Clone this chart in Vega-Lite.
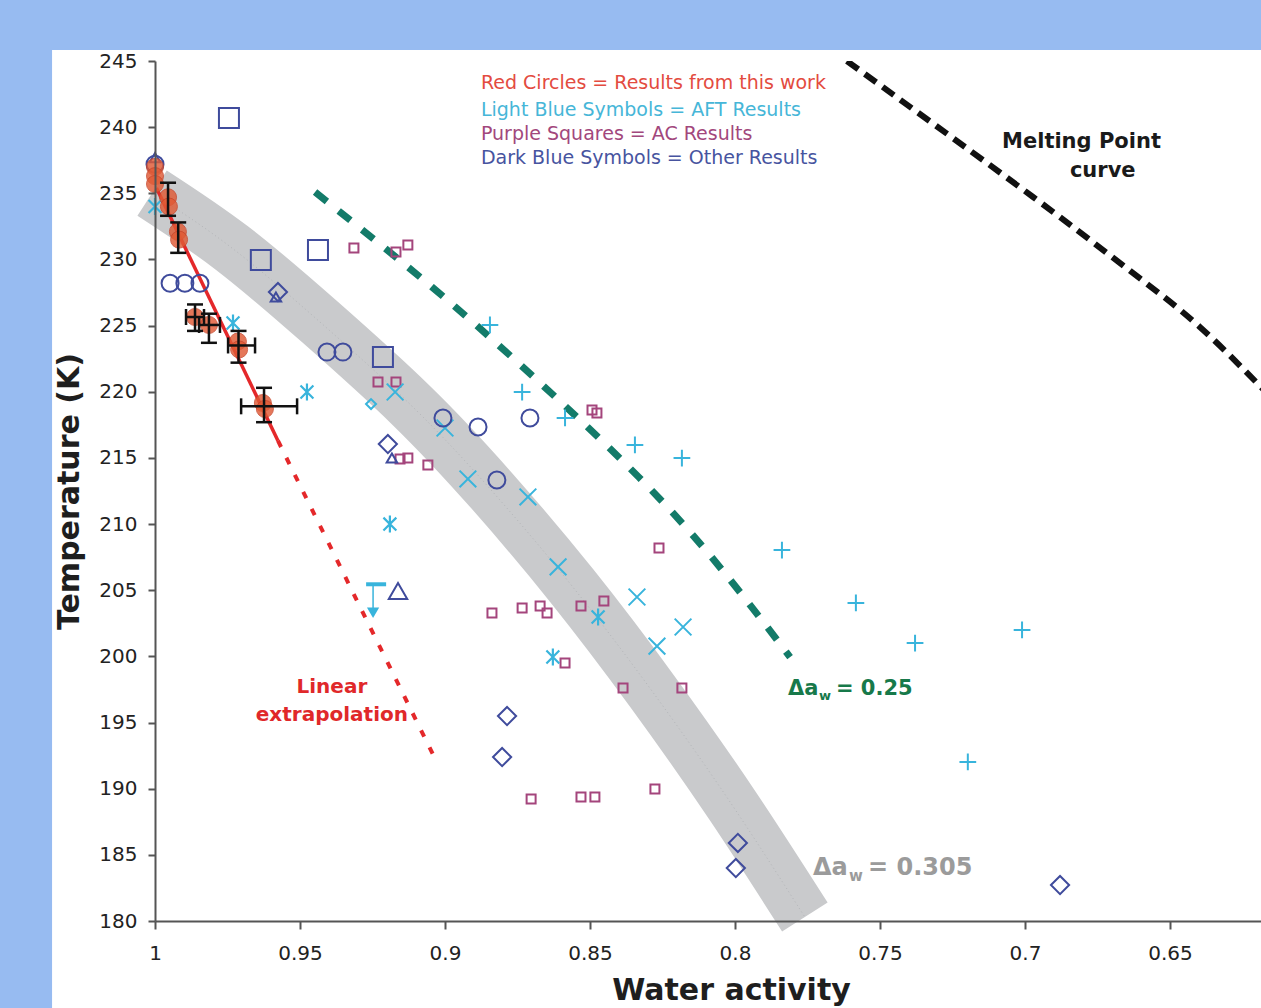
{
"$schema": "https://vega.github.io/schema/vega-lite/v6.json",
"width": 1106, "height": 860,
"autosize": {"type": "none"},
"padding": {"left": 155, "top": 61, "right": 0, "bottom": 87},
"background": "#97bbf1",
"config": {"view": {"stroke": null}, "axis": {"grid": false}},
"datasets": {
 "panel": [{"x1": 1.0355, "x2": 0.60, "y1": 245.83, "y2": 172.5}],
 "band": [{"aw":1.001,"T":235.02},{"aw":0.9735,"T":230.87},{"aw":0.9431,"T":225.27},{"aw":0.9114,"T":218.92},{"aw":0.8838,"T":212.5},{"aw":0.8562,"T":205.32},{"aw":0.8286,"T":197.38},{"aw":0.801,"T":188.77},{"aw":0.7759,"T":180.3}],
 "melt": [{"aw":0.7614,"T":245.0},{"aw":0.6972,"T":234.72},{"aw":0.6628,"T":228.98},{"aw":0.6397,"T":224.9},{"aw":0.6186,"T":220.36},{"aw":0.61,"T":218.5}],
 "green": [{"aw":0.9448,"T":235.1},{"aw":0.9045,"T":227.92},{"aw":0.8683,"T":220.89},{"aw":0.8214,"T":210.84},{"aw":0.781,"T":199.95}],
 "redfit": [{"aw":0.9995,"T":235.4},{"aw":0.9576,"T":216.3}],
 "redext": [{"aw":0.9576,"T":216.3},{"aw":0.9028,"T":192.0}],
 "red": [{"aw":1.0,"T":237.0},{"aw":1.0,"T":236.3},{"aw":1.0,"T":235.7},{"aw":0.9955,"T":234.7},{"aw":0.9952,"T":234.0},{"aw":0.9921,"T":232.1},{"aw":0.9917,"T":231.5},{"aw":0.9862,"T":225.65},{"aw":0.9814,"T":225.05},{"aw":0.9714,"T":223.8},{"aw":0.971,"T":223.2},{"aw":0.9628,"T":219.15},{"aw":0.9621,"T":218.7}],
 "errv": [{"aw":0.9955,"Tlo":233.3,"Thi":235.8},{"aw":0.992,"Tlo":230.5,"Thi":232.8},{"aw":0.9862,"Tlo":224.6,"Thi":226.6},{"aw":0.9814,"Tlo":223.7,"Thi":225.9},{"aw":0.9712,"Tlo":222.2,"Thi":224.6},{"aw":0.9624,"Tlo":217.7,"Thi":220.3}],
 "errh": [{"awlo":0.9893,"awhi":0.9831,"T":225.65},{"awlo":0.9848,"awhi":0.9776,"T":225.05},{"awlo":0.9748,"awhi":0.9655,"T":223.5},{"awlo":0.9703,"awhi":0.951,"T":218.9}],
 "purple": [{"aw":0.9314,"T":230.87},{"aw":0.9169,"T":230.57},{"aw":0.9128,"T":231.09},{"aw":0.9231,"T":220.74},{"aw":0.9169,"T":220.74},{"aw":0.9059,"T":214.46},{"aw":0.9155,"T":214.92},{"aw":0.9128,"T":215.0},{"aw":0.8493,"T":218.62},{"aw":0.8476,"T":218.4},{"aw":0.8262,"T":208.19},{"aw":0.8838,"T":203.28},{"aw":0.8734,"T":203.66},{"aw":0.8672,"T":203.81},{"aw":0.8648,"T":203.28},{"aw":0.8531,"T":203.81},{"aw":0.8452,"T":204.18},{"aw":0.8586,"T":199.5},{"aw":0.8386,"T":197.61},{"aw":0.8183,"T":197.61},{"aw":0.8703,"T":189.22},{"aw":0.8531,"T":189.37},{"aw":0.8483,"T":189.37},{"aw":0.8276,"T":189.98}],
 "lbx": [{"aw":0.9172,"T":219.98},{"aw":0.9,"T":217.26},{"aw":0.8921,"T":213.41},{"aw":0.8714,"T":212.05},{"aw":0.861,"T":206.76},{"aw":0.8338,"T":204.49},{"aw":0.8269,"T":200.78},{"aw":0.8179,"T":202.22}],
 "lbplus": [{"aw":0.8845,"T":225.05},{"aw":0.8734,"T":219.98},{"aw":0.8586,"T":218.02},{"aw":0.8345,"T":215.98},{"aw":0.8183,"T":214.99},{"aw":0.7838,"T":208.04},{"aw":0.7583,"T":204.04},{"aw":0.7379,"T":201.01},{"aw":0.701,"T":202.0},{"aw":0.7197,"T":192.02}],
 "lbast": [{"aw":1.0,"T":234.0},{"aw":0.9731,"T":225.2},{"aw":0.9476,"T":219.98},{"aw":0.919,"T":210.0},{"aw":0.8628,"T":199.95},{"aw":0.8472,"T":202.98}],
 "lbdiam": [{"aw":0.9255,"T":219.07}],
 "limit": [{"aw":0.9248,"awlo":0.9272,"awhi":0.9203,"T":205.45,"Tlo":203.3}],
 "dbsq": [{"aw":0.9745,"T":240.69},{"aw":0.9635,"T":229.96},{"aw":0.9438,"T":230.72},{"aw":0.9214,"T":222.63}],
 "dbcirc": [{"aw":1.0,"T":237.2},{"aw":0.9948,"T":228.2},{"aw":0.9897,"T":228.2},{"aw":0.9845,"T":228.2},{"aw":0.9407,"T":223.0},{"aw":0.9352,"T":223.0},{"aw":0.9007,"T":218.02},{"aw":0.8886,"T":217.34},{"aw":0.8707,"T":218.02},{"aw":0.8821,"T":213.33}],
 "dbdiam": [{"aw":0.9576,"T":227.54},{"aw":0.9197,"T":216.05},{"aw":0.8786,"T":195.49},{"aw":0.8803,"T":192.39},{"aw":0.799,"T":185.9},{"aw":0.7997,"T":184.0},{"aw":0.6879,"T":182.72}],
 "dbtri": [{"aw":1.0,"T":237.7},{"aw":0.9583,"T":227.16},{"aw":0.9183,"T":215.0}],
 "dbtribig": [{"aw":0.9162,"T":204.94}],
 "legend": [{"aw":0.8876,"T":242.88,"label":"Red Circles = Results from this work","series":"a"},{"aw":0.8876,"T":240.84,"label":"Light Blue Symbols = AFT Results","series":"b"},{"aw":0.8876,"T":239.03,"label":"Purple Squares = AC Results","series":"c"},{"aw":0.8876,"T":237.22,"label":"Dark Blue Symbols = Other Results","series":"d"}],
 "meltlab": [{"aw":0.7079,"T":238.42,"label":"Melting Point"},{"aw":0.6845,"T":236.23,"label":"curve"}],
 "linlab": [{"aw":0.939,"T":197.23,"label":"Linear"},{"aw":0.939,"T":195.12,"label":"extrapolation"}],
 "glab": [{"aw":0.7817,"T":197.08,"label":"Δa"},{"aw":0.7652,"T":197.08,"label":"= 0.25"}],
 "gsub": [{"aw":0.771,"T":196.72,"label":"w"}],
 "klab": [{"aw":0.7731,"T":183.45,"label":"Δa"},{"aw":0.7541,"T":183.45,"label":"= 0.305"}],
 "ksub": [{"aw":0.7607,"T":183.05,"label":"w"}]
},
"encoding": {
 "x": {"field": "aw", "type": "quantitative",
  "scale": {"domain": [0.6186, 1], "reverse": true, "nice": false, "zero": false},
  "axis": {"values": [1, 0.95, 0.9, 0.85, 0.8, 0.75, 0.7, 0.65], "format": "~g", "title": "Water activity",
   "titleX": 576, "titleY": 78, "titleAlign": "center", "titleBaseline": "alphabetic",
   "titleFont": "DejaVu Sans", "titleFontSize": 30, "titleFontWeight": "bold", "titleColor": "#1e1e1e",
   "labelFont": "DejaVu Sans", "labelFontSize": 20, "labelColor": "#222222", "labelPadding": 14,
   "tickSize": 8, "tickColor": "#555555", "tickWidth": 2, "domainColor": "#555555", "domainWidth": 2,
   "grid": false, "zindex": 1, "labelFlush": false, "labelOverlap": false}},
 "y": {"field": "T", "type": "quantitative",
  "scale": {"domain": [180, 245], "nice": false, "zero": false},
  "axis": {"values": [180,185,190,195,200,205,210,215,220,225,230,235,240,245], "format": "d", "title": "Temperature (K)",
   "titleX": -77, "titleY": 430, "titleAngle": 270, "titleAlign": "center", "titleBaseline": "alphabetic",
   "titleFont": "DejaVu Sans", "titleFontSize": 30, "titleFontWeight": "bold", "titleColor": "#1e1e1e",
   "labelFont": "DejaVu Sans", "labelFontSize": 20, "labelColor": "#222222", "labelPadding": 11,
   "tickSize": 7, "tickColor": "#555555", "tickWidth": 2, "domainColor": "#555555", "domainWidth": 2,
   "grid": false, "zindex": 1, "labelFlush": false, "labelOverlap": false}}
},
"layer": [
 {"data": {"name": "panel"}, "mark": {"type": "rect", "fill": "#ffffff", "clip": false},
  "encoding": {"x": {"field": "x1", "type": "quantitative"}, "x2": {"field": "x2"},
   "y": {"field": "y1", "type": "quantitative"}, "y2": {"field": "y2"}}},
 {"data": {"values": [{"a": 1}]}, "mark": {"type": "rule", "color": "#555555", "strokeWidth": 2},
  "encoding": {"x": {"datum": 1, "type": "quantitative"}, "x2": {"datum": 0.6186}, "y": {"datum": 245, "type": "quantitative"}}},
 {"data": {"name": "band"}, "mark": {"type": "line", "color": "#c9cacc", "strokeWidth": 54, "strokeCap": "butt", "strokeJoin": "round", "interpolate": "natural", "clip": false}},
 {"data": {"name": "band"}, "mark": {"type": "line", "color": "#b3b5b8", "strokeWidth": 1, "strokeDash": [1, 3], "interpolate": "natural"}},
 {"data": {"name": "melt"}, "mark": {"type": "line", "color": "#111111", "strokeWidth": 6, "strokeDash": [14, 8], "interpolate": "natural", "clip": true}},
 {"data": {"name": "green"}, "mark": {"type": "line", "color": "#137b69", "strokeWidth": 7, "strokeDash": [15, 15], "interpolate": "natural"}},
 {"data": {"name": "redfit"}, "mark": {"type": "line", "color": "#e4282a", "strokeWidth": 3.5}},
 {"data": {"name": "redext"}, "mark": {"type": "line", "color": "#e4282a", "strokeWidth": 4, "strokeDash": [7, 12]}},
 {"data": {"name": "purple"}, "mark": {"type": "point", "shape": "square", "size": 81, "filled": false, "color": "#a4457c", "strokeWidth": 2, "opacity": 1}},
 {"data": {"name": "lbx"}, "mark": {"type": "point", "shape": "M-1,-1L1,1M-1,1L1,-1", "size": 280, "filled": false, "color": "#38b4dc", "strokeWidth": 2, "opacity": 1}},
 {"data": {"name": "lbplus"}, "mark": {"type": "point", "shape": "M-1,0L1,0M0,-1L0,1", "size": 280, "filled": false, "color": "#38b4dc", "strokeWidth": 2, "opacity": 1}},
 {"data": {"name": "lbast"}, "mark": {"type": "point", "shape": "M-0.8,-0.8L0.8,0.8M-0.8,0.8L0.8,-0.8M0,-1.05L0,1.05", "size": 260, "filled": false, "color": "#38b4dc", "strokeWidth": 2.2, "opacity": 1}},
 {"data": {"name": "lbdiam"}, "mark": {"type": "point", "shape": "diamond", "size": 100, "filled": false, "color": "#38b4dc", "strokeWidth": 2, "opacity": 1}},
 {"data": {"name": "limit"}, "mark": {"type": "rule", "color": "#38b4dc", "strokeWidth": 4},
  "encoding": {"x": {"field": "awlo", "type": "quantitative"}, "x2": {"field": "awhi"}}},
 {"data": {"name": "limit"}, "mark": {"type": "rule", "color": "#38b4dc", "strokeWidth": 1.5},
  "encoding": {"y2": {"field": "Tlo"}}},
 {"data": {"name": "limit"}, "mark": {"type": "point", "shape": "triangle-down", "size": 150, "filled": true, "color": "#38b4dc", "opacity": 1},
  "encoding": {"y": {"field": "Tlo", "type": "quantitative"}}},
 {"data": {"name": "dbsq"}, "mark": {"type": "point", "shape": "square", "size": 400, "filled": false, "color": "#3f4b9c", "strokeWidth": 2, "opacity": 1}},
 {"data": {"name": "dbcirc"}, "mark": {"type": "point", "shape": "circle", "size": 289, "filled": false, "color": "#3f4b9c", "strokeWidth": 2, "opacity": 1}},
 {"data": {"name": "dbdiam"}, "mark": {"type": "point", "shape": "diamond", "size": 330, "filled": false, "color": "#3f4b9c", "strokeWidth": 2, "opacity": 1}},
 {"data": {"name": "dbtri"}, "mark": {"type": "point", "shape": "triangle-up", "size": 110, "filled": false, "color": "#3f4b9c", "strokeWidth": 2, "opacity": 1}},
 {"data": {"name": "dbtribig"}, "mark": {"type": "point", "shape": "triangle-up", "size": 340, "filled": false, "color": "#3f4b9c", "strokeWidth": 2, "opacity": 1}},
 {"data": {"name": "red"}, "mark": {"type": "point", "shape": "circle", "size": 289, "filled": true, "color": "#e05a35", "opacity": 0.82, "stroke": "#c8452a", "strokeWidth": 1}},
 {"data": {"name": "errv"}, "mark": {"type": "rule", "color": "#111111", "strokeWidth": 2.5},
  "encoding": {"y": {"field": "Tlo", "type": "quantitative"}, "y2": {"field": "Thi"}}},
 {"data": {"name": "errv"}, "mark": {"type": "point", "shape": "M-1,0L1,0", "size": 256, "filled": false, "color": "#111111", "strokeWidth": 2.5, "opacity": 1},
  "encoding": {"y": {"field": "Tlo", "type": "quantitative"}}},
 {"data": {"name": "errv"}, "mark": {"type": "point", "shape": "M-1,0L1,0", "size": 256, "filled": false, "color": "#111111", "strokeWidth": 2.5, "opacity": 1},
  "encoding": {"y": {"field": "Thi", "type": "quantitative"}}},
 {"data": {"name": "errh"}, "mark": {"type": "rule", "color": "#111111", "strokeWidth": 2.5},
  "encoding": {"x": {"field": "awlo", "type": "quantitative"}, "x2": {"field": "awhi"}}},
 {"data": {"name": "errh"}, "mark": {"type": "point", "shape": "M0,-1L0,1", "size": 256, "filled": false, "color": "#111111", "strokeWidth": 2.5, "opacity": 1},
  "encoding": {"x": {"field": "awlo", "type": "quantitative"}}},
 {"data": {"name": "errh"}, "mark": {"type": "point", "shape": "M0,-1L0,1", "size": 256, "filled": false, "color": "#111111", "strokeWidth": 2.5, "opacity": 1},
  "encoding": {"x": {"field": "awhi", "type": "quantitative"}}},
 {"data": {"name": "legend"}, "mark": {"type": "text", "align": "left", "baseline": "alphabetic", "font": "DejaVu Sans", "fontSize": 19},
  "encoding": {"text": {"field": "label"}, "color": {"field": "series", "type": "nominal", "scale": {"domain": ["a", "b", "c", "d"], "range": ["#e34b40", "#46b6d8", "#a2477c", "#47549f"]}, "legend": null}}},
 {"data": {"name": "meltlab"}, "mark": {"type": "text", "align": "left", "baseline": "alphabetic", "font": "DejaVu Sans", "fontSize": 21, "fontWeight": "bold", "color": "#1a1a1a"},
  "encoding": {"text": {"field": "label"}}},
 {"data": {"name": "linlab"}, "mark": {"type": "text", "align": "center", "baseline": "alphabetic", "font": "DejaVu Sans", "fontSize": 20, "fontWeight": "bold", "color": "#e0282a"},
  "encoding": {"text": {"field": "label"}}},
 {"data": {"name": "glab"}, "mark": {"type": "text", "align": "left", "baseline": "alphabetic", "font": "DejaVu Sans", "fontSize": 21, "fontWeight": "bold", "color": "#17794a"},
  "encoding": {"text": {"field": "label"}}},
 {"data": {"name": "gsub"}, "mark": {"type": "text", "align": "left", "baseline": "alphabetic", "font": "DejaVu Sans", "fontSize": 13, "fontWeight": "bold", "color": "#17794a"},
  "encoding": {"text": {"field": "label"}}},
 {"data": {"name": "klab"}, "mark": {"type": "text", "align": "left", "baseline": "alphabetic", "font": "DejaVu Sans", "fontSize": 24, "fontWeight": "bold", "color": "#9b9b9b"},
  "encoding": {"text": {"field": "label"}}},
 {"data": {"name": "ksub"}, "mark": {"type": "text", "align": "left", "baseline": "alphabetic", "font": "DejaVu Sans", "fontSize": 15, "fontWeight": "bold", "color": "#9b9b9b"},
  "encoding": {"text": {"field": "label"}}}
]
}
